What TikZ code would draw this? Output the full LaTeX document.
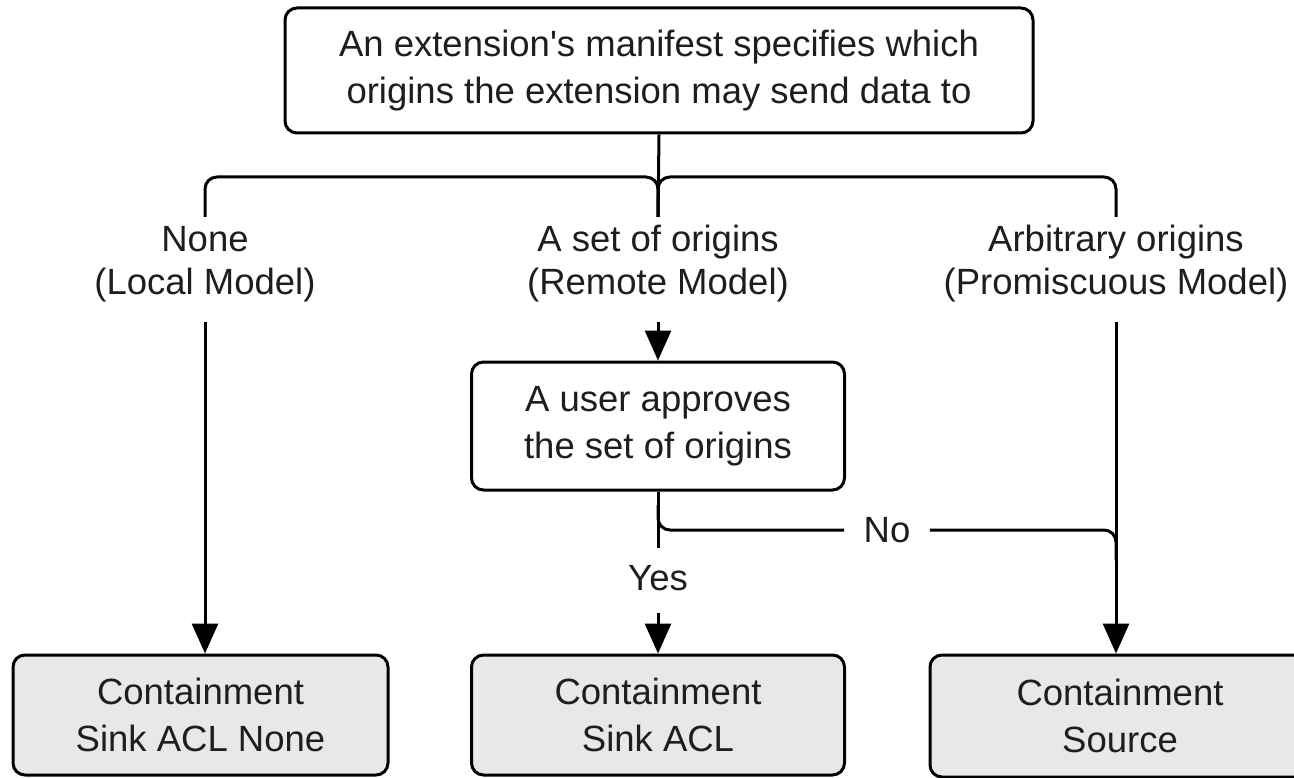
\documentclass[tikz,border=0pt]{standalone}
\usepackage{fontspec}
\setmainfont{Liberation Sans}
\usetikzlibrary{arrows.meta}
\definecolor{inkgray}{HTML}{1E1E1E}
\definecolor{endfill}{HTML}{E8E8E8}
\newcommand{\flowfont}{\fontsize{36.5}{47}\selectfont}
\newcommand{\labelfont}{\fontsize{36.5}{43}\selectfont}
\begin{document}
\begin{tikzpicture}[x=1pt,y=-1pt,line width=3pt,
  box/.style={draw,rounded corners=12pt,inner sep=0pt,align=center,
    text=inkgray,font=\flowfont},
  endbox/.style={box,fill=endfill},
  lbl/.style={inner sep=0pt,align=center,text=inkgray,font=\labelfont},
  arr/.style={-{Triangle[width=26pt,length=30pt]}}]
\useasboundingbox (0,0) rectangle (1294,778);
\clip (0,0) rectangle (1294,778);

% boxes
\node[box,minimum width=748pt,minimum height=125pt] (top) at (659,70.5)
  {An extension\textquotesingle s manifest specifies which\\origins the extension may send data to};
\node[box,minimum width=373pt,minimum height=128pt] (user) at (658,426)
  {A user approves\\the set of origins};
\node[endbox,minimum width=375pt,minimum height=120pt] (sinkNone) at (200.5,715)
  {Containment\\Sink ACL None};
\node[endbox,minimum width=373pt,minimum height=120pt] (sinkACL) at (658,715)
  {Containment\\Sink ACL};
\node[endbox,minimum width=380pt,minimum height=122pt] (source) at (1120,716)
  {Containment\\Source};

% branch labels
\node[lbl] (lblL) at (205,264) {None\\(Local Model)};
\node[lbl] (lblM) at (658,264) {A set of origins\\(Remote Model)};
\node[lbl] (lblR) at (1116,264) {Arbitrary origins\\(Promiscuous Model)};
\node[lbl,font=\flowfont] (yes) at (658,578) {Yes};
\node[lbl,font=\flowfont] (no) at (887,530) {No};

% fork below the manifest box
\coordinate (hub) at (658,177);
\coordinate (lDrop) at (205,217);
\coordinate (mDrop) at (658,217);
\coordinate (rDrop) at (1116,217);
\draw (top.south) -- (mDrop);
\draw[rounded corners=12pt] (lDrop) |- (hub) -- (mDrop);
\draw[rounded corners=12pt] (rDrop) |- (hub) -- (mDrop);

% arrows from the labels
\coordinate (lOut) at (205,322);
\coordinate (mOut) at (658,322);
\coordinate (rOut) at (1116,322);
\draw[arr] (lOut) -- (lOut |- sinkNone.north);
\draw[arr] (mOut) -- (user.north);
\draw[arr] (rOut) -- (rOut |- source.north);

% approval decision
\coordinate (yesTop) at (658,548);
\coordinate (yesBot) at (658,613);
\coordinate (split) at (658,505);
\coordinate (noDrop) at (1116,560);
\draw (user.south) -- (yesTop);
\draw[arr] (yesBot) -- (sinkACL.north);
\draw[rounded corners=12pt] (split) |- ([xshift=-18pt]no.west);
\draw[rounded corners=12pt] ([xshift=18pt]no.east) -| (noDrop);
\end{tikzpicture}
\end{document}
